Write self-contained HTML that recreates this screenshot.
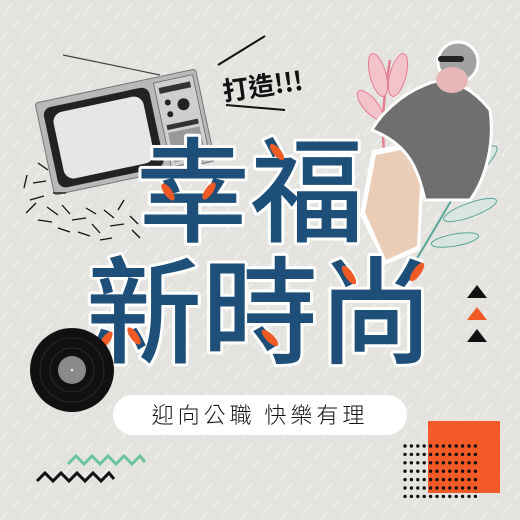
<!DOCTYPE html>
<html><head><meta charset="utf-8">
<style>
html,body{margin:0;padding:0}
body{width:520px;height:520px;overflow:hidden;background:#e4e3df;position:relative;font-family:"Liberation Sans","Noto Sans CJK TC",sans-serif}
svg{position:absolute;left:0;top:0}
</style></head>
<body>
<svg width="520" height="520" viewBox="0 0 520 520" xmlns="http://www.w3.org/2000/svg">
<defs>
<pattern id="rain" width="40" height="40" patternUnits="userSpaceOnUse">
<g stroke="#f4f3f0" stroke-width="1.2" stroke-linecap="round" opacity="0.9">
<line x1="4" y1="14" x2="12" y2="4"/><line x1="22" y1="36" x2="32" y2="24"/><line x1="26" y1="12" x2="31" y2="6"/><line x1="2" y1="38" x2="7" y2="32"/><line x1="14" y1="26" x2="19" y2="20"/><line x1="34" y1="20" x2="39" y2="14"/>
</g></pattern>
</defs>
<rect width="520" height="520" fill="url(#rain)"/>

<!-- TV -->
<line x1="160" y1="75" x2="63" y2="55" stroke="#444" stroke-width="1.2"/>
<g transform="translate(125,132) rotate(-12)">
<rect x="-82" y="-47" width="164" height="94" rx="3" fill="#b8b8b8" stroke="#777"/>
<rect x="-76" y="-40" width="108" height="82" rx="8" fill="#222"/>
<rect x="-68" y="-33" width="92" height="68" rx="10" fill="#e6e6e6"/>
<rect x="38" y="-42" width="40" height="86" fill="#cfcfcf" stroke="#666" stroke-width=".8"/>
<rect x="42" y="-36" width="32" height="6" fill="#333"/>
<circle cx="48" cy="-20" r="3" fill="#222"/><circle cx="48" cy="-8" r="3" fill="#222"/>
<circle cx="63" cy="-15" r="6" fill="#222"/>
<rect x="42" y="2" width="32" height="5" fill="#333"/>
<rect x="42" y="10" width="32" height="30" fill="#999"/>
</g>
<g stroke="#111" stroke-width="1.3">
<line x1="27" y1="175" x2="24" y2="188"/><line x1="38" y1="163" x2="48" y2="170"/><line x1="33" y1="183" x2="46" y2="181"/><line x1="30" y1="200" x2="44" y2="196"/><line x1="26" y1="213" x2="36" y2="203"/><line x1="47" y1="207" x2="58" y2="215"/><line x1="53" y1="193" x2="66" y2="193"/><line x1="38" y1="220" x2="52" y2="222"/><line x1="62" y1="205" x2="70" y2="214"/><line x1="72" y1="220" x2="86" y2="218"/><line x1="58" y1="228" x2="70" y2="232"/><line x1="86" y1="208" x2="96" y2="214"/><line x1="92" y1="224" x2="100" y2="233"/><line x1="78" y1="232" x2="90" y2="236"/><line x1="104" y1="210" x2="114" y2="218"/><line x1="110" y1="226" x2="124" y2="224"/><line x1="118" y1="210" x2="124" y2="200"/><line x1="130" y1="216" x2="138" y2="224"/><line x1="132" y1="230" x2="140" y2="238"/><line x1="100" y1="240" x2="112" y2="238"/>
</g>

<!-- 打造 -->
<g>
<line x1="218" y1="65" x2="265" y2="36" stroke="#111" stroke-width="2"/>
<line x1="226" y1="105" x2="285" y2="110" stroke="#111" stroke-width="2"/>
<text x="222" y="97" font-family="'Noto Sans CJK TC',sans-serif" font-weight="bold" font-size="26" fill="#111" transform="rotate(-8 250 85)">打造!!!</text>
</g>

<!-- collage figure -->
<g>
<path d="M385 160 C380 120 385 90 390 60" stroke="#e57d90" stroke-width="2.5" fill="none"/>
<ellipse cx="378" cy="75" rx="8" ry="22" fill="#f3c3cb" stroke="#e57d90" transform="rotate(-15 378 75)"/>
<ellipse cx="398" cy="75" rx="8" ry="22" fill="#f3c3cb" stroke="#e57d90" transform="rotate(15 398 75)"/>
<ellipse cx="370" cy="105" rx="7" ry="18" fill="#f3c3cb" stroke="#e57d90" transform="rotate(-40 370 105)"/>
<ellipse cx="405" cy="108" rx="7" ry="18" fill="#f3c3cb" stroke="#e57d90" transform="rotate(40 405 108)"/>
<path d="M490 130 C470 170 440 220 410 270" stroke="#5aa59a" stroke-width="2" fill="none"/>
<ellipse cx="478" cy="165" rx="26" ry="7" fill="#d8e6df" stroke="#5aa59a" transform="rotate(-45 478 165)"/>
<ellipse cx="470" cy="210" rx="28" ry="7" fill="#d8e6df" stroke="#5aa59a" transform="rotate(-20 470 210)"/>
<ellipse cx="455" cy="240" rx="24" ry="6" fill="#d8e6df" stroke="#5aa59a" transform="rotate(-10 455 240)"/>
<path d="M372 150 L425 140 L420 250 L385 265 L360 215 Z" fill="#fff"/>
<path d="M376 155 L422 146 L417 246 L386 260 L365 212 Z" fill="#e9cdb6"/>
<path d="M425 85 C445 75 470 85 490 110 C495 145 485 180 470 200 L425 200 C418 170 410 145 372 130 C380 115 400 95 425 85 Z" fill="#6f6f6f" stroke="#fff" stroke-width="3"/>
<circle cx="458" cy="62" r="20" fill="#a2a2a2" stroke="#fff" stroke-width="3"/>
<ellipse cx="452" cy="80" rx="16" ry="13" fill="#e7b7b6"/>
<rect x="438" y="56" width="26" height="6" rx="3" fill="#222"/>
</g>

<!-- Title -->
<g font-family="'Noto Sans CJK TC',sans-serif" font-weight="500" fill="#1e4f78" stroke="#fff" stroke-width="6" paint-order="stroke" stroke-linejoin="round">
<text x="136" y="233" font-size="114">幸福</text>
<text x="86" y="354" font-size="116">新時尚</text>
</g>
<g fill="#f05a24">
<ellipse cx="168" cy="192" rx="4" ry="10" transform="rotate(-35 168 192)"/>
<ellipse cx="209" cy="191" rx="4" ry="10" transform="rotate(35 209 191)"/>
<ellipse cx="277" cy="152" rx="4" ry="10" transform="rotate(-40 277 152)"/>
<ellipse cx="106" cy="340" rx="4" ry="10" transform="rotate(35 106 340)"/>
<ellipse cx="134" cy="336" rx="4" ry="10" transform="rotate(-35 134 336)"/>
<ellipse cx="270" cy="338" rx="4" ry="11" transform="rotate(-45 270 338)"/>
<ellipse cx="349" cy="275" rx="4" ry="11" transform="rotate(-35 349 275)"/>
<ellipse cx="417" cy="272" rx="4" ry="11" transform="rotate(35 417 272)"/>
</g>

<!-- record -->
<g>
<circle cx="72" cy="370" r="42" fill="#111"/>
<circle cx="72" cy="370" r="32" fill="none" stroke="#2a2a2a"/>
<circle cx="72" cy="370" r="22" fill="none" stroke="#2a2a2a"/>
<circle cx="72" cy="370" r="14" fill="#8a8a8a"/>
<circle cx="72" cy="370" r="1.2" fill="#fff"/>
</g>

<!-- triangles -->
<g>
<polygon points="477,285 487,298 467,298" fill="#111"/>
<polygon points="477,307 487,320 467,320" fill="#f05a24"/>
<polygon points="477,329 487,342 467,342" fill="#111"/>
</g>

<!-- pill -->
<rect x="113" y="395" width="294" height="40" rx="20" fill="#fff"/>
<text x="260" y="423" text-anchor="middle" font-family="'Noto Sans CJK TC',sans-serif" font-size="22" font-weight="300" letter-spacing="4" fill="#111">迎向公職 快樂有理</text>

<!-- zigzags -->
<polyline points="68,464 76,456 84,464 92,456 100,464 108,456 116,464 124,456 132,464 140,456 145,462" fill="none" stroke="#6cc49a" stroke-width="3"/>
<polyline points="37,481 45,473 53,481 61,473 69,481 77,473 85,481 93,473 101,481 109,473 114,479" fill="none" stroke="#111" stroke-width="3"/>

<!-- orange square + dots -->
<rect x="428" y="421" width="72" height="72" fill="#f45a27"/>
<g fill="#111" id="dots"></g>
</svg>
<script>
var g=document.getElementById('dots');
for(var r=0;r<7;r++)for(var c=0;c<12;c++){var d=document.createElementNS('http://www.w3.org/2000/svg','circle');


d.setAttribute('cx',405+c*6.4);d.setAttribute('cy',446+r*8.4);d.setAttribute('r',1.7);g.appendChild(d);}
</script>
</body></html>
